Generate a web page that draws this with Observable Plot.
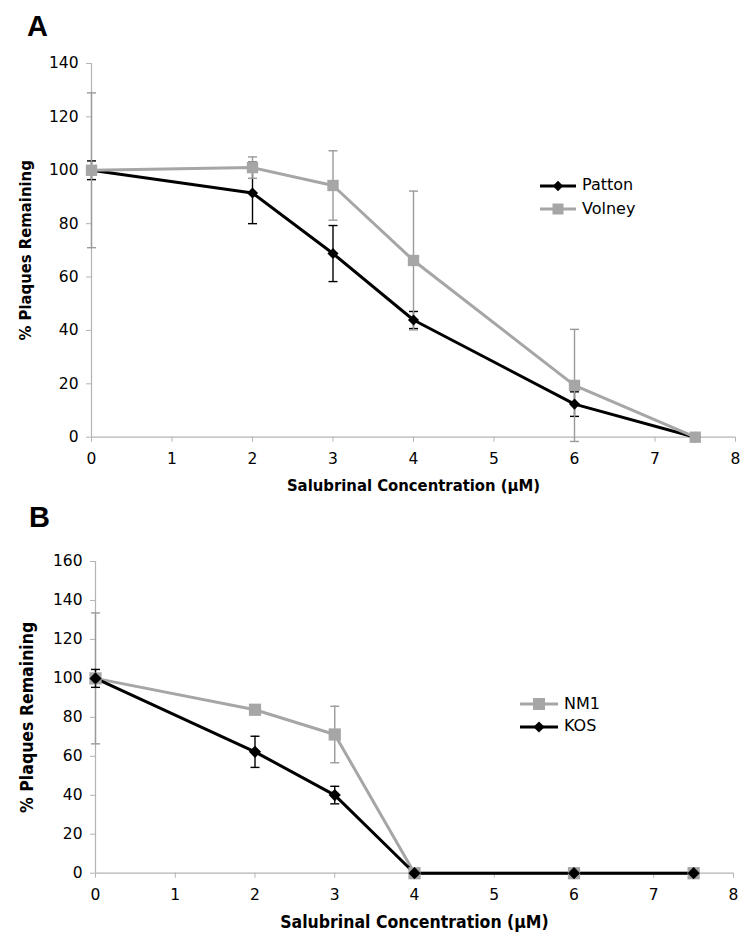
<!DOCTYPE html>
<html>
<head>
<meta charset="utf-8">
<script src="https://cdn.jsdelivr.net/npm/d3@7"></script>
<script src="https://cdn.jsdelivr.net/npm/@observablehq/plot@0.6"></script>
<style>
  html, body { margin: 0; padding: 0; background: #fff; }
  #wrap { position: relative; width: 750px; height: 942px; background: #fff; overflow: hidden; }
  .panel { position: absolute; left: 0; }
  .tag { position: absolute; font-family: "Liberation Sans", Arial, sans-serif; font-weight: bold; font-size: 29px; line-height: 1; }
  .leg { position: absolute; font-family: "DejaVu Sans", Verdana, sans-serif; font-size: 16px; line-height: 1; }
  .leg svg { position: absolute; left: 0; }
  .leg span { position: absolute; white-space: nowrap; }
</style>
</head>
<body>
<div id="wrap"></div>
<script>
// ---------- data ----------
const conc = [0, 2, 3, 4, 6, 7.5];

const pattonMean = [100, 91.5, 68.8, 43.9, 12.4, 0];
const pattonErr  = [3.5, 11.5, 10.5, 3.2, 4.6, 0];
const volneyMean = [100, 101, 94.3, 66.2, 19.4, 0];
const volneyErr  = [29, 4, 13, 26, 21, 0];

const nm1Mean = [100, 83.9, 71.2, 0, 0, 0];
const nm1Err  = [33.6, 2, 14.5, 0, 0, 0];
const kosMean = [100, 62.3, 40.1, 0, 0, 0];
const kosErr  = [4.6, 8, 4.5, 0, 0, 0];

const xTicks  = [0, 1, 2, 3, 4, 5, 6, 7, 8];
const yTicksA = [0, 20, 40, 60, 80, 100, 120, 140];
const yTicksB = [0, 20, 40, 60, 80, 100, 120, 140, 160];

const xLabel = "Salubrinal Concentration (\u03BCM)";
const yLabel = "% Plaques Remaining";

// ---------- styles ----------
const BLACK = "#000000";
const GRAY = "#a6a6a6";
const GRAY_ERR = "#9a9a9a";
const AXIS = "#b4b4b4";
const BOLD_FONT = "'DejaVu Sans Condensed', 'DejaVu Sans', Verdana, sans-serif";

const rows = (mean, err) => conc.map((x, i) => ({x, y: mean[i], e: err[i]}));

const capSymbol = {
  draw(context) { context.moveTo(-4.5, 0); context.lineTo(4.5, 0); }
};

function errorMarks(data, color) {
  const d = data.filter(r => r.e > 0);
  return [
    Plot.ruleX(d, {x: "x", y1: r => r.y - r.e, y2: r => r.y + r.e, stroke: color, strokeWidth: 1.4}),
    Plot.dot(d, {x: "x", y: r => r.y + r.e, symbol: capSymbol, fill: "none", stroke: color, strokeWidth: 1.4}),
    Plot.dot(d, {x: "x", y: r => r.y - r.e, symbol: capSymbol, fill: "none", stroke: color, strokeWidth: 1.4})
  ];
}

function panel({height, mt, mb, ml, mr, yMax, yTicks, series, labelSize, yLabelDx, xLabelDy, tickFont}) {
  const marks = [
    Plot.axisX({ticks: xTicks, tickSize: 5, tickPadding: 11, stroke: AXIS, label: null, fontSize: tickFont, tickFormat: d3.format("d")}),
    Plot.axisY({ticks: yTicks, tickSize: 5, tickPadding: 8, stroke: AXIS, label: null, fontSize: tickFont}),
    Plot.ruleY([0], {stroke: AXIS, strokeWidth: 1.2}),
    Plot.ruleX([0], {stroke: AXIS, strokeWidth: 1.2})
  ];
  for (const s of series) marks.push(...errorMarks(s.data, s.err));
  for (const s of series) marks.push(Plot.line(s.data, {x: "x", y: "y", stroke: s.color, strokeWidth: 3, strokeLinejoin: "round"}));
  for (const s of series) marks.push(Plot.dot(s.data, {x: "x", y: "y", symbol: s.symbol, r: s.r, fill: s.color, stroke: "none"}));
  marks.push(
    Plot.text([yLabel], {frameAnchor: "left", dx: yLabelDx, rotate: -90, textAnchor: "middle", lineAnchor: "middle",
      fontWeight: "bold", fontSize: labelSize, fontFamily: BOLD_FONT, fill: "#000"}),
    Plot.text([xLabel], {frameAnchor: "bottom", dy: xLabelDy, textAnchor: "middle", lineAnchor: "middle",
      fontWeight: "bold", fontSize: labelSize, fontFamily: BOLD_FONT, fill: "#000"})
  );
  return Plot.plot({
    width: 750, height,
    marginTop: mt, marginBottom: mb, marginLeft: ml, marginRight: mr,
    x: {domain: [0, 8]},
    y: {domain: [0, yMax]},
    style: {fontFamily: "'DejaVu Sans', Verdana, sans-serif", fontSize: tickFont + "px", color: "#000", background: "#fff", overflow: "visible"},
    marks
  });
}

const wrap = document.getElementById("wrap");

const A = panel({
  height: 500, mt: 63, mb: 63.3, ml: 91, mr: 15, yMax: 140, yTicks: yTicksA, labelSize: 16.5, tickFont: 15.5,
  yLabelDx: -66, xLabelDy: 48.3,
  series: [
    {data: rows(pattonMean, pattonErr), color: BLACK, err: BLACK, symbol: "diamond2", r: 5},
    {data: rows(volneyMean, volneyErr), color: GRAY, err: GRAY_ERR, symbol: "square", r: 6.4}
  ]
});
A.classList.add("panel"); A.style.top = "0px";
wrap.appendChild(A);

const B = panel({
  height: 442, mt: 61, mb: 69.3, ml: 95, mr: 17, yMax: 160, yTicks: yTicksB, labelSize: 17.5, tickFont: 15.5,
  yLabelDx: -68, xLabelDy: 49,
  series: [
    {data: rows(nm1Mean, nm1Err), color: GRAY, err: GRAY_ERR, symbol: "square", r: 6.9},
    {data: rows(kosMean, kosErr), color: BLACK, err: BLACK, symbol: "diamond2", r: 5.5}
  ]
});
B.classList.add("panel"); B.style.top = "500px";
wrap.appendChild(B);

// panel tags
function tag(txt, left, top) {
  const d = document.createElement("div");
  d.className = "tag"; d.textContent = txt;
  d.style.left = left + "px"; d.style.top = top + "px";
  wrap.appendChild(d);
}
tag("A", 27, 12);
tag("B", 29, 503);

// legends
function legend(entries, left, top, gap, lineW) {
  entries.forEach((e, i) => {
    const d = document.createElement("div");
    d.className = "leg";
    d.style.left = left + "px";
    d.style.top = (top + i * gap) + "px";
    const h = 16, c = h / 2, m = lineW / 2;
    let marker;
    if (e.symbol === "square") {
      const s = e.size;
      marker = `<rect x="${m - s / 2}" y="${c - s / 2}" width="${s}" height="${s}" fill="${e.color}"/>`;
    } else {
      const s = e.size;
      marker = `<path d="M${m},${c - s} L${m + s},${c} L${m},${c + s} L${m - s},${c} Z" fill="${e.color}"/>`;
    }
    d.innerHTML = `<svg width="${lineW}" height="${h}" style="top:${-c}px"><line x1="0" x2="${lineW}" y1="${c}" y2="${c}" stroke="${e.color}" stroke-width="3"/>${marker}</svg>` +
      `<span style="left:${lineW + 6}px; top:-8.5px">${e.name}</span>`;
    wrap.appendChild(d);
  });
}
legend([
  {name: "Patton", color: BLACK, symbol: "diamond", size: 5.2},
  {name: "Volney", color: GRAY, symbol: "square", size: 11}
], 540, 185.7, 23.6, 36);
legend([
  {name: "NM1", color: GRAY, symbol: "square", size: 12},
  {name: "KOS", color: BLACK, symbol: "diamond", size: 5.6}
], 520, 704.3, 22.4, 38);
</script>
</body>
</html>
